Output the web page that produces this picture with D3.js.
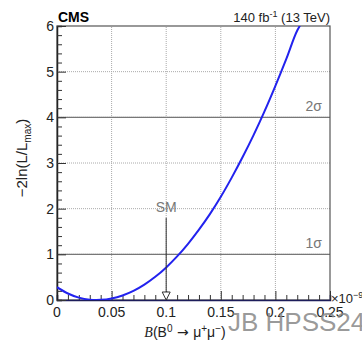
<!DOCTYPE html>
<html>
<head>
<meta charset="utf-8">
<script src="https://cdn.jsdelivr.net/npm/d3@7"></script>
<style>
  body { margin: 0; background: #fff; }
  text { font-family: "Liberation Sans", Arial, sans-serif; }
</style>
</head>
<body>
<svg id="chart"></svg>
<script>
  //Scan points of the likelihood curve (x in units of 1e-9)
  const scanX = [0, 0.01, 0.02, 0.03, 0.036, 0.04, 0.05, 0.06, 0.07, 0.08, 0.09, 0.10, 0.11,
    0.12, 0.13, 0.14, 0.15, 0.16, 0.17, 0.18, 0.19, 0.20, 0.21, 0.22, 0.2235];
  const scanY = [0.28, 0.142, 0.052, 0.007, 0, 0.003, 0.034, 0.10, 0.20, 0.337, 0.508, 0.714, 0.954,
    1.23, 1.54, 1.88, 2.26, 2.68, 3.13, 3.61, 4.13, 4.69, 5.28, 5.90, 6.05];

  //Tick labels and reference lines
  const xTicks = [0, 0.05, 0.1, 0.15, 0.2, 0.25];
  const yTicks = [0, 1, 2, 3, 4, 5, 6];
  const sigmaLevels = [1, 4];
  const sigmaLabels = ['1σ', '2σ'];
  const smValue = 0.1;
  const smArrowTop = 1.8;

  const width = 362;
  const height = 344;
  const margin = { top: 26, right: 32, bottom: 44, left: 57 };

  const svg = d3.select('#chart')
    .attr('width', width)
    .attr('height', height);

  const x = d3.scaleLinear().domain([0, 0.25]).range([margin.left, width - margin.right]);
  const y = d3.scaleLinear().domain([0, 6]).range([height - margin.bottom, margin.top]);

  //Clip the curve to the frame
  svg.append('clipPath').attr('id', 'frame')
    .append('rect')
    .attr('x', x(0)).attr('y', y(6))
    .attr('width', x(0.25) - x(0)).attr('height', y(0) - y(6));

  //Dotted grid
  svg.append('g')
    .selectAll('line')
    .data(xTicks.slice(1, -1))
    .enter().append('line')
    .attr('x1', d => x(d)).attr('x2', d => x(d))
    .attr('y1', y(0)).attr('y2', y(6))
    .attr('stroke', '#aaa').attr('stroke-width', 1).attr('stroke-dasharray', '1,1');
  svg.append('g')
    .selectAll('line')
    .data(yTicks.slice(1, -1))
    .enter().append('line')
    .attr('x1', x(0)).attr('x2', x(0.25))
    .attr('y1', d => y(d)).attr('y2', d => y(d))
    .attr('stroke', '#aaa').attr('stroke-width', 1).attr('stroke-dasharray', '1,1');

  //Sigma lines
  svg.append('g')
    .selectAll('line')
    .data(sigmaLevels)
    .enter().append('line')
    .attr('x1', x(0)).attr('x2', x(0.25))
    .attr('y1', d => y(d)).attr('y2', d => y(d))
    .attr('stroke', '#777').attr('stroke-width', 1.2);
  svg.append('g')
    .selectAll('text')
    .data(sigmaLevels)
    .enter().append('text')
    .attr('x', x(0.25) - 8)
    .attr('y', d => y(d) - 6)
    .attr('text-anchor', 'end')
    .attr('font-size', 14)
    .attr('fill', '#777')
    .text((d, i) => sigmaLabels[i]);

  //Frame
  svg.append('rect')
    .attr('x', x(0)).attr('y', y(6))
    .attr('width', x(0.25) - x(0)).attr('height', y(0) - y(6))
    .attr('fill', 'none').attr('stroke', '#555').attr('stroke-width', 1.2);

  //Axes, ticks pointing inwards
  const xAxis = d3.axisBottom(x).tickValues(d3.range(0, 0.2501, 0.01)).tickSize(-5).tickFormat('');
  svg.append('g')
    .attr('transform', `translate(0,${y(0)})`)
    .call(xAxis)
    .call(g => g.select('.domain').attr('stroke', '#1c1c5a').attr('stroke-width', 1.5))
    .call(g => g.selectAll('.tick line').attr('stroke', '#333')
      .attr('y2', d => Math.abs(d * 20 - Math.round(d * 20)) < 1e-6 ? -9 : -5));
  svg.append('g')
    .selectAll('text')
    .data(xTicks)
    .enter().append('text')
    .attr('x', d => x(d))
    .attr('y', y(0) + 17)
    .attr('text-anchor', 'middle')
    .attr('font-size', 14)
    .attr('fill', '#222')
    .text(d => d === 0 ? '0' : String(d));

  const yAxis = d3.axisLeft(y).tickValues(d3.range(0, 6.001, 0.2)).tickSize(-5).tickFormat('');
  svg.append('g')
    .attr('transform', `translate(${x(0)},0)`)
    .call(yAxis)
    .call(g => g.select('.domain').attr('stroke', '#222').attr('stroke-width', 1.5))
    .call(g => g.selectAll('.tick line').attr('stroke', '#333')
      .attr('x2', d => Math.abs(d - Math.round(d)) < 1e-6 ? 9 : 5));
  svg.append('g')
    .selectAll('text')
    .data(yTicks)
    .enter().append('text')
    .attr('x', x(0) - 3)
    .attr('y', d => y(d) + 5)
    .attr('text-anchor', 'end')
    .attr('font-size', 14)
    .attr('fill', '#222')
    .text(d => d);

  //Likelihood curve
  const line = d3.line()
    .x((d, i) => x(scanX[i]))
    .y(d => y(d))
    .curve(d3.curveMonotoneX);
  svg.append('path')
    .datum(scanY)
    .attr('d', line)
    .attr('clip-path', 'url(#frame)')
    .attr('fill', 'none')
    .attr('stroke', '#2222ee')
    .attr('stroke-width', 2);

  //SM arrow
  svg.append('line')
    .attr('x1', x(smValue)).attr('x2', x(smValue))
    .attr('y1', y(smArrowTop)).attr('y2', y(0) - 8)
    .attr('stroke', '#333').attr('stroke-width', 1);
  svg.append('path')
    .attr('d', `M${x(smValue) - 4},${y(0) - 8} L${x(smValue) + 4},${y(0) - 8} L${x(smValue)},${y(0)} Z`)
    .attr('fill', '#fff').attr('stroke', '#333').attr('stroke-width', 1);
  svg.append('text')
    .attr('x', x(smValue))
    .attr('y', y(smArrowTop) - 6)
    .attr('text-anchor', 'middle')
    .attr('font-size', 14)
    .attr('fill', '#777')
    .text('SM');

  //Header texts
  svg.append('text')
    .attr('x', x(0) + 1).attr('y', y(6) - 4)
    .attr('font-size', 14).attr('font-weight', 'bold')
    .text('CMS');
  const lumi = svg.append('text')
    .attr('x', x(0.25)).attr('y', y(6) - 4)
    .attr('text-anchor', 'end')
    .attr('font-size', 13)
    .attr('fill', '#222');
  lumi.append('tspan').text('140 fb');
  lumi.append('tspan').attr('dy', -5).attr('font-size', 9).text('-1');
  lumi.append('tspan').attr('dy', 5).text(' (13 TeV)');

  //Exponent label
  const expo = svg.append('text')
    .attr('x', x(0.25) + 1).attr('y', y(0) + 3)
    .attr('font-size', 13)
    .attr('fill', '#222');
  expo.append('tspan').text('×10');
  expo.append('tspan').attr('dy', -5).attr('font-size', 9).text('−9');

  //Axis titles
  const xTitle = svg.append('text')
    .attr('x', 185).attr('y', 337)
    .attr('text-anchor', 'middle')
    .attr('font-size', 14)
    .attr('fill', '#222');
  xTitle.append('tspan').attr('font-style', 'italic').attr('font-family', 'Liberation Serif, serif').text('B');
  xTitle.append('tspan').text('(B');
  xTitle.append('tspan').attr('dy', -5).attr('font-size', 10).text('0');
  xTitle.append('tspan').attr('dy', 5).attr('font-family', 'DejaVu Sans, sans-serif').text(' → ');
  xTitle.append('tspan').text('μ');
  xTitle.append('tspan').attr('dy', -5).attr('font-size', 10).text('+');
  xTitle.append('tspan').attr('dy', 5).text('μ');
  xTitle.append('tspan').attr('dy', -5).attr('font-size', 10).text('−');
  xTitle.append('tspan').attr('dy', 5).text(')');

  const yTitle = svg.append('text')
    .attr('transform', 'translate(27,158) rotate(-90)')
    .attr('text-anchor', 'middle')
    .attr('font-size', 15)
    .attr('fill', '#222');
  yTitle.append('tspan').text('−2ln(L/L');
  yTitle.append('tspan').attr('dy', 4).attr('font-size', 10).text('max');
  yTitle.append('tspan').attr('dy', -4).text(')');

  //Watermark
  svg.append('text')
    .attr('x', 228).attr('y', 331)
    .attr('font-family', 'DejaVu Sans, sans-serif')
    .attr('font-size', 26)
    .attr('fill', '#888')
    .attr('fill-opacity', 0.85)
    .text('JB HPSS24');
</script>
</body>
</html>
